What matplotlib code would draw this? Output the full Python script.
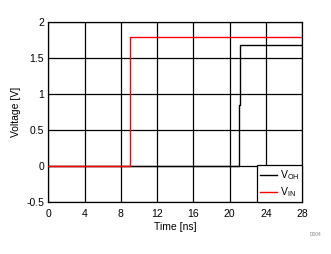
import matplotlib
matplotlib.use('Agg')
import matplotlib.pyplot as plt

plt.rcParams['font.family'] = ['Liberation Sans', 'DejaVu Sans']
plt.rcParams['mathtext.fontset'] = 'custom'
plt.rcParams['mathtext.rm'] = 'Liberation Sans'

# Data (time in ns, voltage in V)
t_voh = [0, 21.0, 21.0, 21.1, 21.1, 28]
v_voh = [0, 0, 0.85, 0.85, 1.69, 1.69]
t_vin = [0, 9.05, 9.05, 28]
v_vin = [0, 0, 1.8, 1.8]

xticks = [0, 4, 8, 12, 16, 20, 24, 28]
yticks = [-0.5, 0, 0.5, 1, 1.5, 2]
ytick_labels = ['-0.5', '0', '0.5', '1', '1.5', '2']

fig = plt.figure(figsize=(3.31, 2.54), dpi=100)
ax = fig.add_axes([48.3 / 331, 1 - 202.3 / 254, 254 / 331, 180 / 254])

ax.plot(t_voh, v_voh, color='black', lw=1.0, label=r'V$_{\mathrm{OH}}$', zorder=3)
ax.plot(t_vin, v_vin, color='red', lw=1.0, label=r'V$_{\mathrm{IN}}$', zorder=3)

ax.set_xlim(0, 28)
ax.set_ylim(-0.5, 2)
ax.set_xticks(xticks)
ax.set_yticks(yticks)
ax.set_yticklabels(ytick_labels)
ax.grid(True, color='black', lw=0.9)
ax.tick_params(length=0, labelsize=7.5)
ax.tick_params(axis='x', pad=5)
ax.tick_params(axis='y', pad=3)
for s in ax.spines.values():
    s.set_linewidth(0.9)

ax.set_xlabel('Time [ns]', fontsize=7.5, labelpad=2)
ax.set_ylabel('Voltage [V]', fontsize=7.5, labelpad=4)

leg = ax.legend(loc='lower right', fontsize=7.5, frameon=True, fancybox=False,
                borderaxespad=0, handlelength=1.6, handletextpad=0.3,
                labelspacing=0.3, borderpad=0.3)
leg.get_frame().set_edgecolor('black')
leg.get_frame().set_linewidth(0.9)
leg.get_frame().set_alpha(1)

fig.text(316 / 331, 1 - 234 / 254, 'D004', fontsize=3.5, color='#888888',
         ha='center', va='center')

fig.savefig('out.png', dpi=100)
